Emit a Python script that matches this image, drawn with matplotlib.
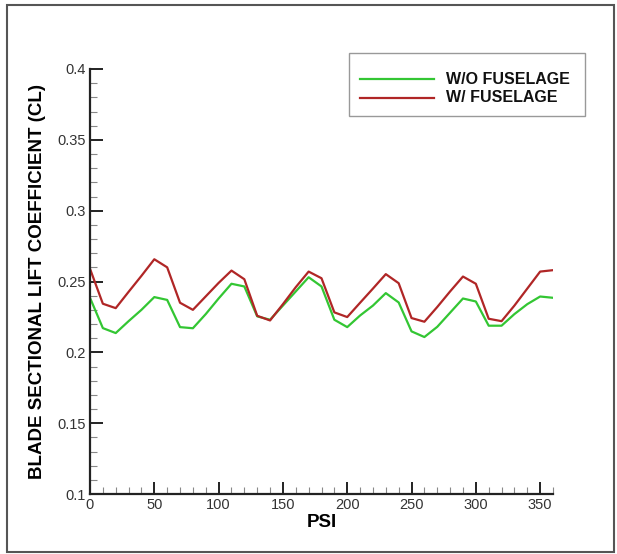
import matplotlib
matplotlib.use("Agg")
import matplotlib.pyplot as plt
from matplotlib.ticker import MultipleLocator
from matplotlib.patches import Rectangle
from matplotlib.lines import Line2D

plt.rcParams['font.family'] = ['Liberation Sans', 'DejaVu Sans']

# azimuth angle (deg)
psi = [0, 10, 20, 30, 40, 50, 60, 70, 80, 90, 100, 110, 120, 130, 140, 150, 160, 170, 180,
       190, 200, 210, 220, 230, 240, 250, 260, 270, 280, 290, 300, 310, 320, 330, 340, 350, 360]

# sectional lift coefficient, without fuselage
cl_no_fus = [0.2385, 0.2171, 0.2136, 0.222, 0.230, 0.239, 0.237, 0.2178, 0.217, 0.227,
             0.238, 0.2484, 0.2465, 0.2254, 0.223, 0.233, 0.243, 0.253, 0.2465, 0.223,
             0.2178, 0.226, 0.233, 0.2418, 0.2352, 0.2148, 0.2108, 0.218, 0.228, 0.238,
             0.2359, 0.2188, 0.2188, 0.227, 0.234, 0.2394, 0.2385]

# sectional lift coefficient, with fuselage
cl_fus = [0.259, 0.2343, 0.2312, 0.2427, 0.254, 0.2657, 0.260, 0.235, 0.230, 0.2395,
          0.249, 0.2577, 0.2516, 0.2258, 0.2225, 0.234, 0.246, 0.257, 0.2523, 0.2282,
          0.2249, 0.235, 0.245, 0.2552, 0.2488, 0.2242, 0.2216, 0.232, 0.243, 0.2535,
          0.2484, 0.2237, 0.222, 0.233, 0.245, 0.257, 0.258]

green = '#33c633'
red = '#b02626'

fig = plt.figure(figsize=(6.17, 5.54), dpi=100)
ax = fig.add_axes([90 / 617, 1 - 494 / 554, 463 / 617, 425 / 554])

ax.plot(psi, cl_no_fus, color=green, lw=1.6)
ax.plot(psi, cl_fus, color=red, lw=1.6)

ax.set_xlim(0, 360)
ax.set_ylim(0.1, 0.4)
ax.xaxis.set_major_locator(MultipleLocator(50))
ax.xaxis.set_minor_locator(MultipleLocator(10))
ax.yaxis.set_minor_locator(MultipleLocator(0.01))
ax.set_yticks([0.1, 0.15, 0.2, 0.25, 0.3, 0.35, 0.4])
ax.set_yticklabels(['0.1', '0.15', '0.2', '0.25', '0.3', '0.35', '0.4'])

for s in ['top', 'right']:
    ax.spines[s].set_visible(False)
for s in ['left', 'bottom']:
    ax.spines[s].set_linewidth(1.6)
    ax.spines[s].set_color('#222222')

ax.tick_params(which='major', direction='in', length=9, width=1.4, color='#222222',
               labelsize=10.5, labelcolor='#333333', pad=3)
ax.tick_params(which='minor', direction='in', length=5, width=0.8, color='#888888')

ax.set_xlabel('PSI', fontsize=13.5, fontweight='bold', labelpad=1)
ax.set_ylabel('BLADE SECTIONAL LIFT COEFFICIENT (CL)', fontsize=13.5, fontweight='bold',
              labelpad=8)

# legend box in figure pixels
W, H = 617, 554
fig.patches.append(Rectangle((349 / W, 1 - 116 / H), 236 / W, 63 / H,
                             transform=fig.transFigure, fill=True, facecolor='white',
                             edgecolor='#999999', lw=1.0))
labels = ['W/O FUSELAGE', 'W/ FUSELAGE']
colors = [green, red]
rows = [79, 98]
for lab, c, yy in zip(labels, colors, rows):
    fig.lines.append(Line2D([360 / W, 434 / W], [1 - yy / H, 1 - yy / H],
                            transform=fig.transFigure, color=c, lw=1.6))
    fig.text(446 / W, 1 - yy / H, lab, fontsize=11.5, fontweight='bold',
             va='center', ha='left', color='#111111')

# outer frame
fig.patches.append(Rectangle((7 / W, 1 - 552 / H), 607 / W, 547 / H,
                             transform=fig.transFigure, fill=False,
                             edgecolor='#555555', lw=1.5))

fig.savefig('out.png', dpi=100)
